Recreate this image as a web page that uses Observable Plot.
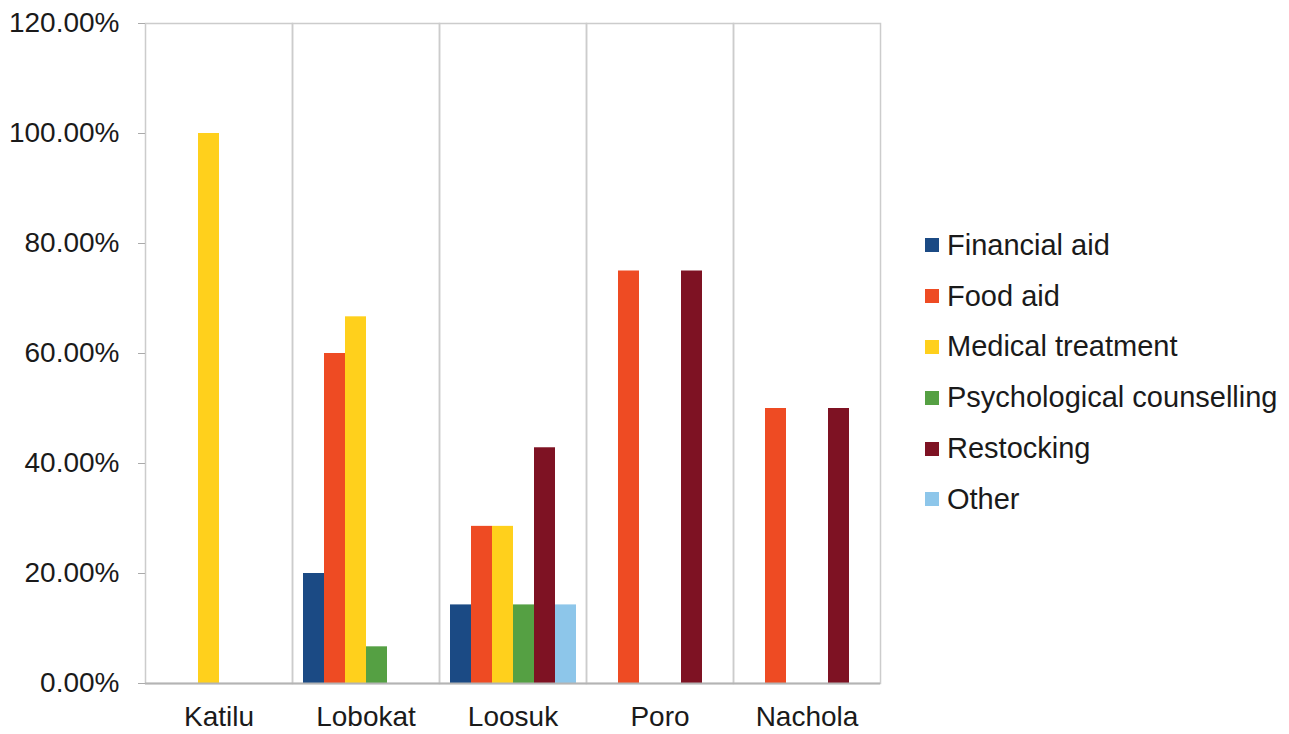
<!DOCTYPE html>
<html>
<head>
<meta charset="utf-8">
<script src="https://cdn.jsdelivr.net/npm/d3@7"></script>
<script src="https://cdn.jsdelivr.net/npm/@observablehq/plot@0.6"></script>
<style>
  html, body { margin: 0; padding: 0; background: #fff; }
  #wrap { position: relative; width: 1289px; height: 734px; font-family: "Liberation Sans", Arial, sans-serif; }
  #chart { position: absolute; left: 0; top: 0; }
  #legend { position: absolute; left: 925px; top: 220px; }
  .row { display: flex; align-items: center; height: 50.8px; font-size: 29px; color: #1a1a1a; white-space: nowrap; }
  .sw { width: 14px; height: 14px; margin-right: 8px; flex: none; }
</style>
</head>
<body>
<div id="wrap"><div id="chart"></div><div id="legend"></div></div>
<script>
const sites = ["Katilu", "Lobokat", "Loosuk", "Poro", "Nachola"];
const series = ["Financial aid", "Food aid", "Medical treatment", "Psychological counselling", "Restocking", "Other"];
const colors = ["#1b4a84", "#ee4b23", "#ffd01c", "#55a043", "#7e1223", "#8dc6ea"];
const financialAid = [0, 20, 14.29, 0, 0];
const foodAid = [0, 60, 28.57, 75, 50];
const medicalTreatment = [100, 66.67, 28.57, 0, 0];
const psychologicalCounselling = [0, 6.67, 14.29, 0, 0];
const restocking = [0, 0, 42.86, 75, 50];
const other = [0, 0, 14.29, 0, 0];
const yTicks = [0, 20, 40, 60, 80, 100, 120];

const seriesValues = [financialAid, foodAid, medicalTreatment, psychologicalCounselling, restocking, other];
const data = [];
series.forEach((s, i) => sites.forEach((site, j) => {
  if (seriesValues[i][j] > 0) data.push({site, series: s, value: seriesValues[i][j]});
}));

const chart = Plot.plot({
  width: 900, height: 734,
  marginLeft: 144, marginRight: 20, marginTop: 23, marginBottom: 51,
  style: {fontFamily: "'Liberation Sans', Arial, sans-serif", fontSize: "28px", color: "#1a1a1a", background: "#fff"},
  fx: {domain: sites, padding: 0, label: null, axis: null},
  x: {domain: series, axis: null, paddingInner: 0, paddingOuter: 0.45},
  y: {domain: [0, 120], axis: null},
  color: {domain: series, range: colors},
  marks: [
    Plot.frame({stroke: "#cccccc", strokeWidth: 1.5}),
    Plot.axisY({ticks: yTicks, tickFormat: d => d.toFixed(2) + "%", tickSize: 7, tickPadding: 19, stroke: "#aaa", color: "#1a1a1a", label: null}),
    Plot.axisFx({tickSize: 0, tickPadding: 23, label: null, anchor: "bottom", color: "#1a1a1a"}),
    Plot.barY(data, {fx: "site", x: "series", y: "value", fill: "series"}),
    Plot.ruleY([0], {stroke: "#b4b4b4", strokeWidth: 2})
  ]
});
document.getElementById("chart").appendChild(chart);

const legend = document.getElementById("legend");
series.forEach((s, i) => {
  const row = document.createElement("div");
  row.className = "row";
  row.innerHTML = `<span class="sw" style="background:${colors[i]}"></span><span>${s}</span>`;
  legend.appendChild(row);
});
</script>
</body>
</html>
